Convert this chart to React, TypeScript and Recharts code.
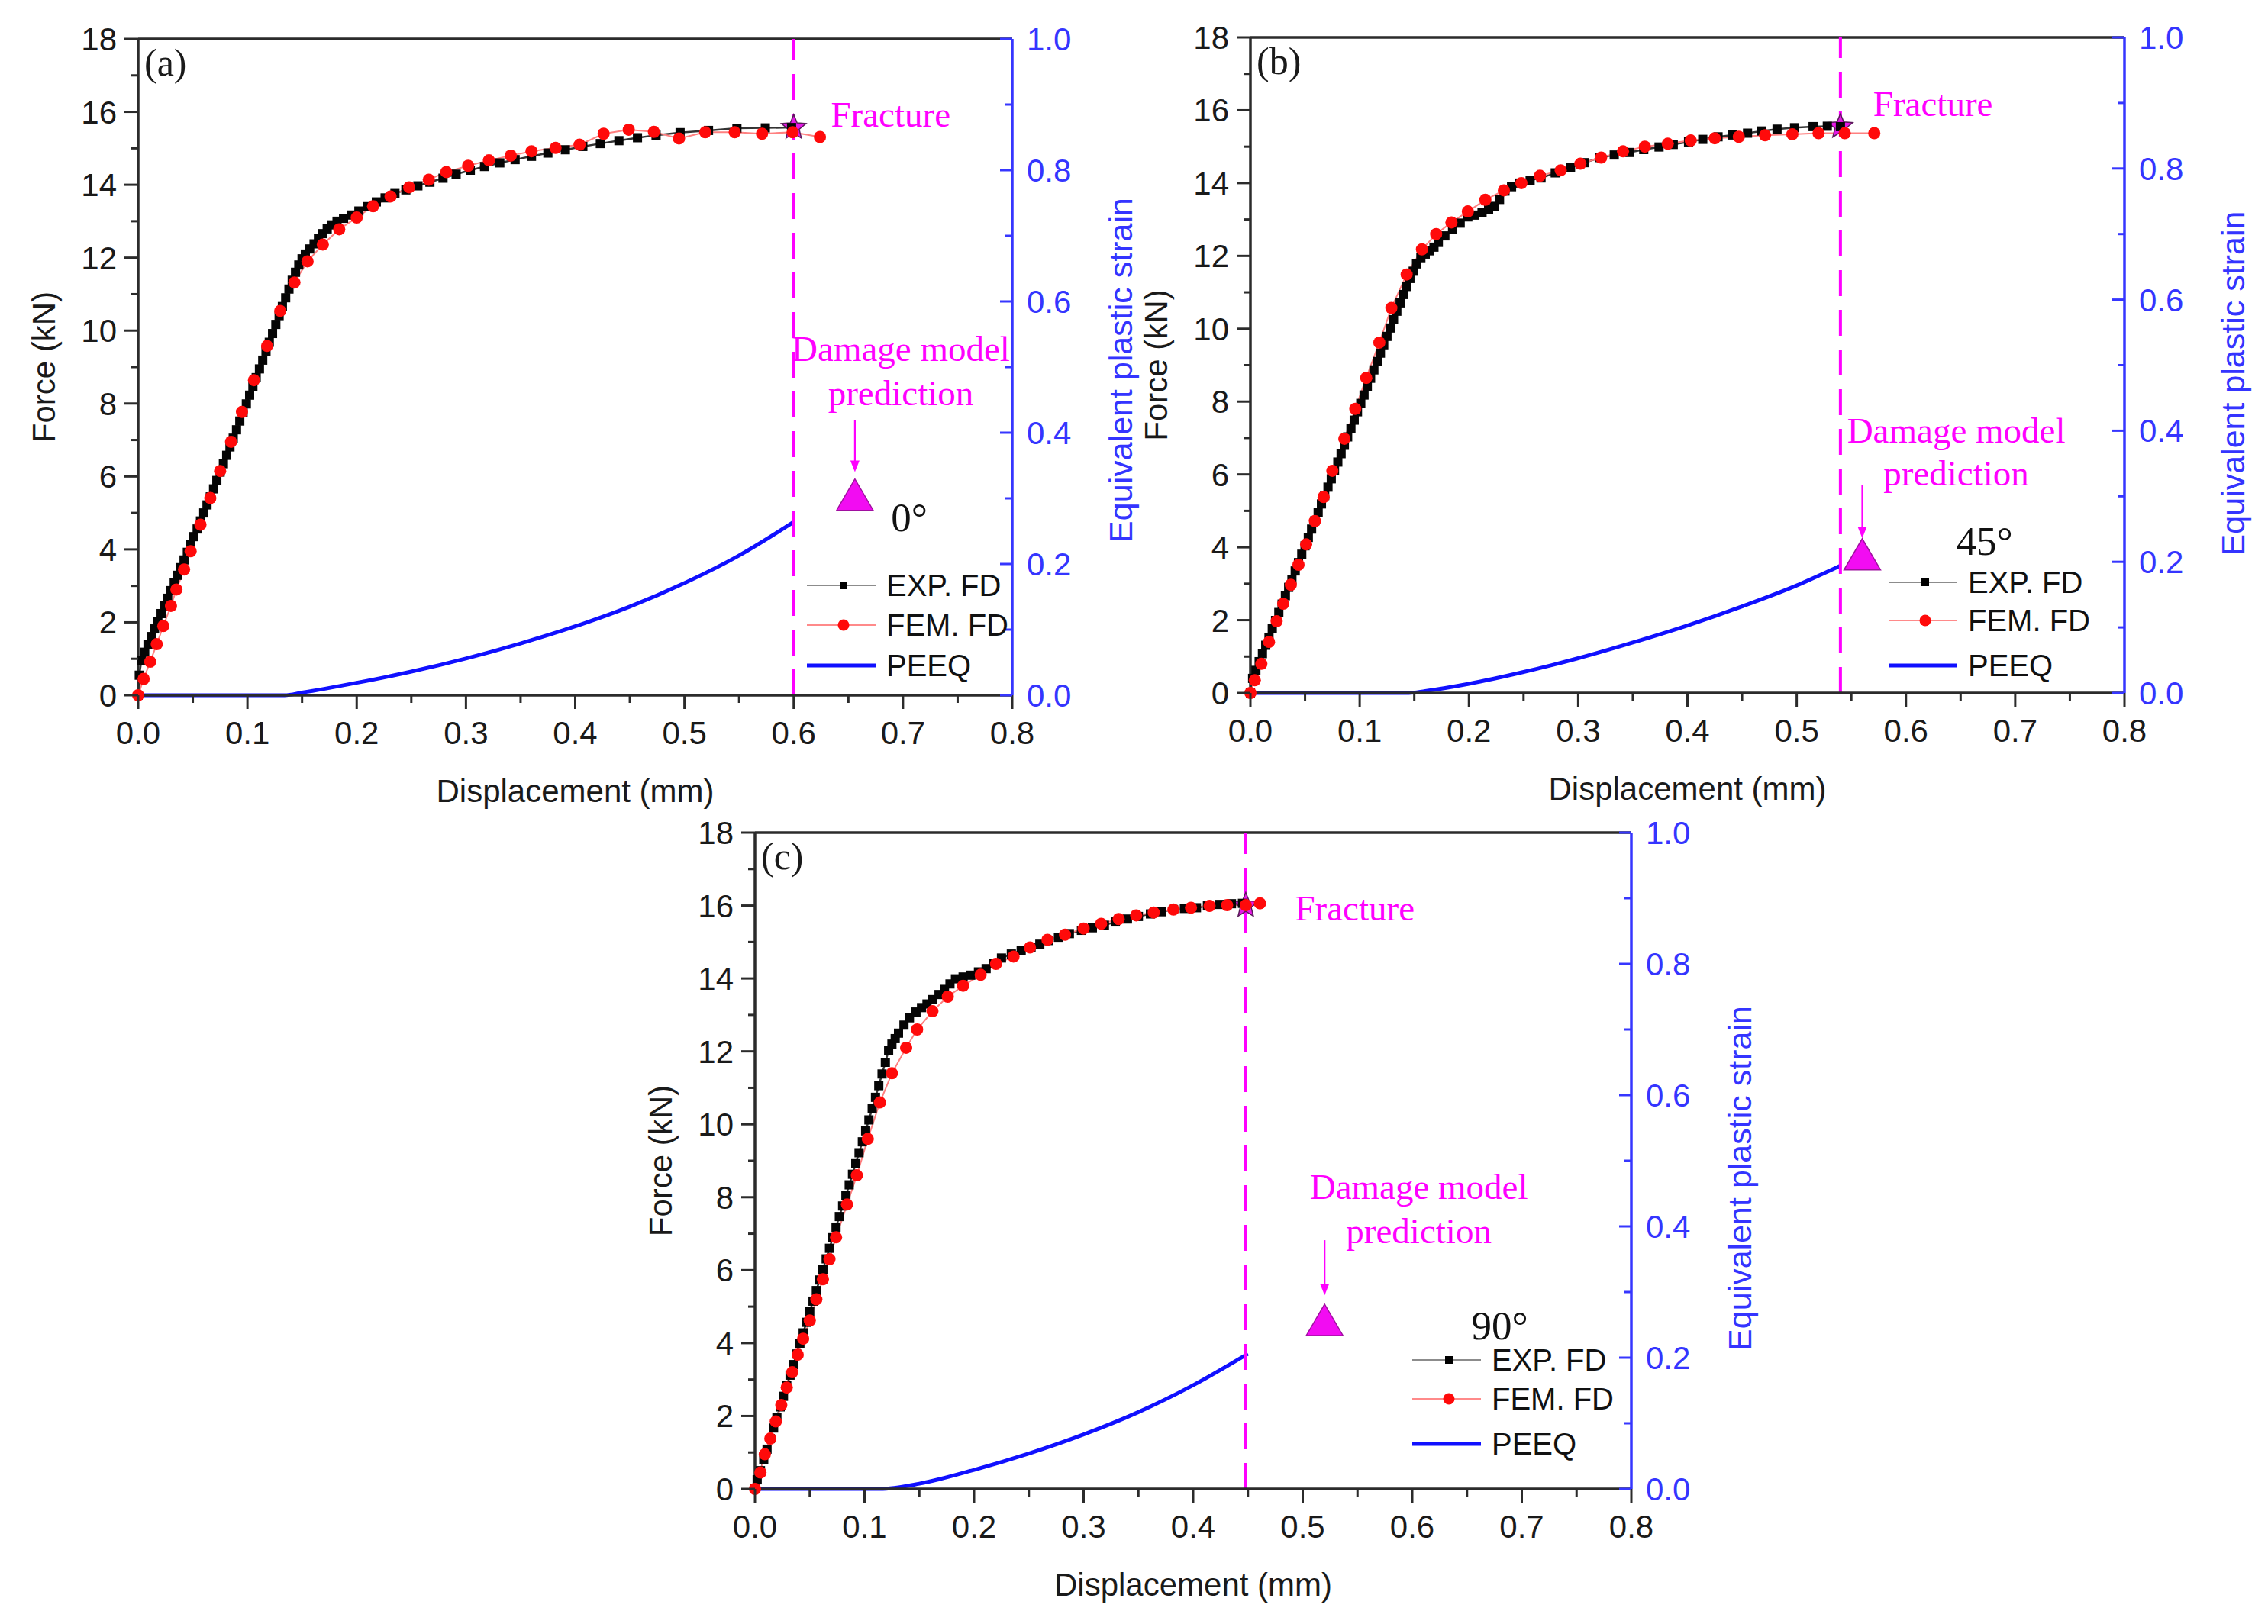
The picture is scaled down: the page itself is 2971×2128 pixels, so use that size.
import React from 'react'
import {
  ComposedChart,
  Line,
  Scatter,
  XAxis,
  YAxis,
  ReferenceLine,
  ReferenceDot,
  Legend,
} from 'recharts'

const SANS = "'Liberation Sans', Arial, Helvetica, sans-serif"
const SERIF = "'Liberation Serif', 'Times New Roman', Times, serif"
const AXIS = '#2b2b2b'
const BLUE_AXIS = '#3636ff'
const MAGENTA = '#ff00ff'

// axis ticks (every second one is a labelled major tick)
const dispTicks = [0, 0.05, 0.1, 0.15, 0.2, 0.25, 0.3, 0.35, 0.4, 0.45, 0.5, 0.55, 0.6, 0.65, 0.7, 0.75, 0.8]
const forceTicks = [0, 1, 2, 3, 4, 5, 6, 7, 8, 9, 10, 11, 12, 13, 14, 15, 16, 17, 18]
const strainTicks = [0, 0.1, 0.2, 0.3, 0.4, 0.5, 0.6, 0.7, 0.8, 0.9, 1.0]

const legendNames = ['EXP. FD', 'FEM. FD', 'PEEQ']
const panelLabels = ['(a)', '(b)', '(c)']
const angleLabels = ['0°', '45°', '90°']

// ---------- (a) 0° ----------
const expA_d = [
  0, 0.001, 0.003, 0.006, 0.009, 0.012, 0.015, 0.018, 0.021, 0.024, 0.027, 0.03, 0.033, 0.036, 0.039, 0.042,
  0.045, 0.048, 0.051, 0.054, 0.057, 0.06, 0.063, 0.066, 0.069, 0.072, 0.075, 0.078, 0.081, 0.084, 0.087, 0.09,
  0.093, 0.096, 0.099, 0.102, 0.105, 0.108, 0.111, 0.114, 0.117, 0.12, 0.123, 0.126, 0.129, 0.132, 0.135, 0.138,
  0.141, 0.144, 0.147, 0.15, 0.153, 0.157, 0.161, 0.165, 0.169, 0.173, 0.177, 0.182, 0.188, 0.195, 0.202, 0.21,
  0.218, 0.226, 0.235, 0.245, 0.256, 0.267, 0.279, 0.291, 0.304, 0.317, 0.331, 0.345, 0.36, 0.375, 0.391, 0.407,
  0.423, 0.44, 0.457, 0.474, 0.496, 0.522, 0.548, 0.574, 0.598,
]
const expA_f = [
  0, 0.55, 0.95, 1.18, 1.4, 1.61, 1.82, 2.03, 2.24, 2.45, 2.66, 2.87, 3.08, 3.29, 3.5, 3.71,
  3.92, 4.13, 4.35, 4.56, 4.78, 5.0, 5.22, 5.44, 5.66, 5.89, 6.12, 6.35, 6.58, 6.81, 7.05, 7.28,
  7.52, 7.76, 7.99, 8.23, 8.47, 8.71, 8.95, 9.19, 9.44, 9.68, 9.92, 10.17, 10.41, 10.66, 10.9, 11.14,
  11.38, 11.6, 11.8, 11.97, 12.1, 12.24, 12.38, 12.52, 12.66, 12.79, 12.9, 13.0, 13.08, 13.17, 13.28, 13.4,
  13.53, 13.64, 13.76, 13.86, 13.97, 14.07, 14.18, 14.29, 14.4, 14.5, 14.6, 14.69, 14.78, 14.87, 14.96, 15.05,
  15.13, 15.21, 15.29, 15.36, 15.43, 15.49, 15.55, 15.56, 15.57,
]
const femA_d = [
  0, 0.005, 0.011, 0.017, 0.023, 0.03, 0.035, 0.042, 0.048, 0.057, 0.066, 0.075, 0.085, 0.095, 0.106, 0.118,
  0.13, 0.143, 0.155, 0.169, 0.184, 0.2, 0.215, 0.231, 0.248, 0.266, 0.282, 0.302, 0.321, 0.341, 0.36, 0.382,
  0.404, 0.426, 0.449, 0.472, 0.495, 0.519, 0.546, 0.571, 0.599, 0.624,
]
const femA_f = [
  0, 0.45, 0.92, 1.4, 1.9, 2.45, 2.9, 3.45, 3.95, 4.68, 5.41, 6.15, 6.95, 7.77, 8.64, 9.58,
  10.54, 11.32, 11.9, 12.36, 12.78, 13.1, 13.41, 13.68, 13.93, 14.14, 14.35, 14.52, 14.67, 14.8, 14.92, 15.01,
  15.1, 15.4, 15.51, 15.45, 15.27, 15.44, 15.44, 15.4, 15.44, 15.31,
]
const peeqA_d = [0, 0.134, 0.15, 0.2, 0.25, 0.3, 0.35, 0.4, 0.45, 0.5, 0.55, 0.6]
const peeqA_p = [0, 0, 0.004, 0.019, 0.036, 0.056, 0.079, 0.105, 0.135, 0.171, 0.213, 0.264]
const fractureA = { d: 0.6, f: 15.57 }
const predictionA = { d: 0.656, p: 0.305 }

// ---------- (b) 45° ----------
const expB_d = [
  0, 0.002, 0.005, 0.008, 0.011, 0.014, 0.017, 0.02, 0.023, 0.026, 0.029, 0.032, 0.035, 0.038, 0.041, 0.044,
  0.047, 0.05, 0.053, 0.056, 0.059, 0.062, 0.065, 0.068, 0.071, 0.074, 0.077, 0.08, 0.083, 0.086, 0.089, 0.092,
  0.095, 0.098, 0.101, 0.104, 0.107, 0.11, 0.113, 0.116, 0.119, 0.122, 0.125, 0.128, 0.131, 0.134, 0.137, 0.14,
  0.143, 0.146, 0.149, 0.152, 0.156, 0.16, 0.164, 0.168, 0.172, 0.178, 0.185, 0.192, 0.199, 0.205, 0.212, 0.218,
  0.223, 0.228, 0.233, 0.239, 0.246, 0.256, 0.266, 0.279, 0.293, 0.306, 0.32, 0.333, 0.347, 0.36, 0.374, 0.387,
  0.401, 0.414, 0.428, 0.441, 0.455, 0.468, 0.482, 0.498, 0.515, 0.528, 0.54,
]
const expB_f = [
  0, 0.4, 0.62, 0.86, 1.08, 1.31, 1.53, 1.76, 1.99, 2.21, 2.44, 2.67, 2.9, 3.12, 3.35, 3.58,
  3.81, 4.04, 4.27, 4.5, 4.73, 4.96, 5.19, 5.42, 5.65, 5.88, 6.11, 6.34, 6.57, 6.8, 7.03, 7.26,
  7.49, 7.72, 7.95, 8.18, 8.41, 8.64, 8.87, 9.1, 9.33, 9.56, 9.79, 10.02, 10.25, 10.48, 10.71, 10.94,
  11.16, 11.38, 11.58, 11.78, 11.95, 12.05, 12.14, 12.24, 12.37, 12.55, 12.72, 12.9, 13.07, 13.12, 13.2, 13.28,
  13.36, 13.55, 13.78, 13.9, 14.0, 14.08, 14.14, 14.28, 14.42, 14.56, 14.7, 14.77, 14.84, 14.92, 14.99, 15.06,
  15.13, 15.2, 15.27, 15.32, 15.37, 15.43, 15.48, 15.52, 15.55, 15.56, 15.55,
]
const femB_d = [
  0, 0.004, 0.01, 0.017, 0.024, 0.03, 0.037, 0.044, 0.051, 0.059, 0.067, 0.075, 0.086, 0.096, 0.106, 0.118,
  0.129, 0.143, 0.157, 0.17, 0.184, 0.199, 0.215, 0.232, 0.248, 0.265, 0.284, 0.302, 0.321, 0.341, 0.361, 0.382,
  0.403, 0.425, 0.447, 0.471, 0.496, 0.52, 0.544, 0.571,
]
const femB_f = [
  0, 0.35, 0.8, 1.4, 1.97, 2.45, 2.97, 3.52, 4.08, 4.72, 5.38, 6.1, 6.98, 7.8, 8.65, 9.62,
  10.57, 11.49, 12.18, 12.6, 12.92, 13.22, 13.54, 13.8, 14.0, 14.2, 14.35, 14.53, 14.7, 14.87, 15.0, 15.08,
  15.17, 15.23, 15.27, 15.31, 15.34, 15.37, 15.37, 15.37,
]
const peeqB_d = [0, 0.145, 0.16, 0.2, 0.25, 0.3, 0.35, 0.4, 0.45, 0.5, 0.54]
const peeqB_p = [0, 0, 0.003, 0.014, 0.032, 0.053, 0.077, 0.103, 0.132, 0.164, 0.194]
const fractureB = { d: 0.54, f: 15.55 }
const predictionB = { d: 0.56, p: 0.211 }

// ---------- (c) 90° ----------
const expC_d = [
  0, 0.002, 0.005, 0.008, 0.011, 0.014, 0.017, 0.02, 0.023, 0.026, 0.029, 0.032, 0.035, 0.038, 0.041, 0.044,
  0.047, 0.05, 0.053, 0.056, 0.059, 0.062, 0.065, 0.068, 0.071, 0.074, 0.077, 0.08, 0.083, 0.086, 0.089, 0.092,
  0.095, 0.098, 0.101, 0.104, 0.107, 0.11, 0.113, 0.116, 0.119, 0.122, 0.125, 0.128, 0.131, 0.136, 0.141, 0.147,
  0.152, 0.157, 0.162, 0.168, 0.173, 0.178, 0.183, 0.19, 0.197, 0.204, 0.211, 0.218, 0.225, 0.234, 0.243, 0.252,
  0.26, 0.268, 0.277, 0.287, 0.298, 0.308, 0.319, 0.329, 0.34, 0.35, 0.361, 0.371, 0.382, 0.392, 0.403, 0.413,
  0.424, 0.435, 0.445,
]
const expC_f = [
  0, 0.25, 0.5, 0.8, 1.09, 1.38, 1.67, 1.96, 2.25, 2.54, 2.83, 3.12, 3.41, 3.7, 3.99, 4.28,
  4.57, 4.86, 5.15, 5.44, 5.73, 6.02, 6.31, 6.6, 6.89, 7.18, 7.47, 7.76, 8.05, 8.34, 8.63, 8.92,
  9.22, 9.52, 9.82, 10.12, 10.43, 10.74, 11.06, 11.38, 11.7, 12.02, 12.2, 12.35, 12.5, 12.72, 12.92, 13.08,
  13.2, 13.3, 13.42, 13.56, 13.7, 13.85, 13.99, 14.04, 14.09, 14.18, 14.27, 14.42, 14.56, 14.67, 14.77, 14.86,
  14.94, 15.04, 15.13, 15.23, 15.32, 15.39, 15.46, 15.55, 15.63, 15.7, 15.77, 15.83, 15.89, 15.92, 15.94, 15.99,
  16.03, 16.05, 16.06,
]
const femC_d = [
  0, 0.005, 0.009, 0.014, 0.019, 0.024, 0.029, 0.034, 0.039, 0.044, 0.05, 0.056, 0.062, 0.068, 0.074, 0.084,
  0.093, 0.103, 0.114, 0.125, 0.138, 0.148, 0.162, 0.176, 0.19, 0.206, 0.22, 0.236, 0.251, 0.267, 0.283, 0.3,
  0.316, 0.332, 0.348, 0.364, 0.382, 0.398, 0.415, 0.431, 0.448, 0.461,
]
const femC_f = [
  0, 0.45, 0.95, 1.38, 1.85, 2.3, 2.78, 3.2, 3.68, 4.12, 4.62, 5.2, 5.75, 6.3, 6.9, 7.8,
  8.6, 9.6, 10.6, 11.4, 12.1, 12.6, 13.1, 13.5, 13.8, 14.1, 14.4, 14.6, 14.85, 15.06, 15.2, 15.37,
  15.5, 15.63, 15.73, 15.81, 15.89, 15.94, 15.99, 16.01, 16.01, 16.06,
]
const peeqC_d = [0, 0.114, 0.15, 0.2, 0.25, 0.3, 0.35, 0.4, 0.45]
const peeqC_p = [0, 0, 0.008, 0.029, 0.054, 0.083, 0.117, 0.158, 0.206]
const fractureC = { d: 0.448, f: 16.0 }
const predictionC = { d: 0.52, p: 0.257 }

const zipF = (xs: number[], ys: number[]) => xs.map((d, i) => ({ d, f: ys[i] }))
const zipP = (xs: number[], ys: number[]) => xs.map((d, i) => ({ d, p: ys[i] }))

// space around each plot box for the axes
const L = 180
const R = 180
const T = 42
const B = 170

type PanelCfg = {
  idx: number
  box: { x: number; y: number; w: number; h: number }
  exp: { d: number; f: number }[]
  fem: { d: number; f: number }[]
  peeq: { d: number; p: number }[]
  fracture: { d: number; f: number }
  prediction: { d: number; p: number }
  fractureText: { d: number; f: number }
  damageText: { d: number; f1: number; f2: number }
  angleText: { d: number; f: number }
  arrow: { d: number; p1: number; p2: number }
  legend: { x: number; rows: number[] }
  rightTitleShift: number
}

const panels: PanelCfg[] = [
  {
    idx: 0,
    box: { x: 181, y: 51, w: 1145, h: 860 },
    exp: zipF(expA_d, expA_f),
    fem: zipF(femA_d, femA_f),
    peeq: zipP(peeqA_d, peeqA_p),
    fracture: fractureA,
    prediction: predictionA,
    fractureText: { d: 0.634, f: 15.6 },
    damageText: { d: 0.698, f1: 9.16, f2: 7.95 },
    angleText: { d: 0.689, f: 4.5 },
    arrow: { d: 0.656, p1: 0.419, p2: 0.34 },
    legend: { x: 1057, rows: [767, 819, 872] },
    rightTitleShift: 4,
  },
  {
    idx: 1,
    box: { x: 1638, y: 49, w: 1145, h: 859 },
    exp: zipF(expB_d, expB_f),
    fem: zipF(femB_d, femB_f),
    peeq: zipP(peeqB_d, peeqB_p),
    fracture: fractureB,
    prediction: predictionB,
    fractureText: { d: 0.57, f: 15.85 },
    damageText: { d: 0.646, f1: 6.88, f2: 5.7 },
    angleText: { d: 0.646, f: 3.79 },
    arrow: { d: 0.56, p1: 0.317, p2: 0.236 },
    legend: { x: 2474, rows: [763, 813, 872] },
    rightTitleShift: 24,
  },
  {
    idx: 2,
    box: { x: 989, y: 1091, w: 1148, h: 860 },
    exp: zipF(expC_d, expC_f),
    fem: zipF(femC_d, femC_f),
    peeq: zipP(peeqC_d, peeqC_p),
    fracture: fractureC,
    prediction: predictionC,
    fractureText: { d: 0.493, f: 15.59 },
    damageText: { d: 0.606, f1: 7.95, f2: 6.74 },
    angleText: { d: 0.654, f: 4.1 },
    arrow: { d: 0.52, p1: 0.379, p2: 0.295 },
    legend: { x: 1850, rows: [1782, 1833, 1892] },
    rightTitleShift: 23,
  },
]

// ---------- ticks ----------
function BottomTick(props: any) {
  const { x, y, payload } = props
  const v = Number(payload.value)
  const major = Math.round(v * 20) % 2 === 0
  return (
    <g>
      <line x1={x} y1={y} x2={x} y2={y + (major ? 18 : 10)} stroke={AXIS} strokeWidth={3} />
      {major && (
        <text x={x} y={y + 64} textAnchor="middle" fontFamily={SANS} fontSize={42} fill="#1a1a1a">
          {v.toFixed(1)}
        </text>
      )}
    </g>
  )
}

function LeftTick(props: any) {
  const { x, y, payload } = props
  const v = Number(payload.value)
  const major = v % 2 === 0
  return (
    <g>
      <line x1={x - (major ? 18 : 9)} y1={y} x2={x} y2={y} stroke={AXIS} strokeWidth={3} />
      {major && (
        <text x={x - 28} y={y + 15} textAnchor="end" fontFamily={SANS} fontSize={42} fill="#1a1a1a">
          {String(v)}
        </text>
      )}
    </g>
  )
}

function RightTick(props: any) {
  const { x, y, payload } = props
  const v = Number(payload.value)
  const major = Math.round(v * 10) % 2 === 0
  return (
    <g>
      <line x1={x - (major ? 16 : 9)} y1={y} x2={x} y2={y} stroke={BLUE_AXIS} strokeWidth={3} />
      {major && (
        <text x={x + 19} y={y + 15} textAnchor="start" fontFamily={SANS} fontSize={42} fill="#3535ff">
          {v.toFixed(1)}
        </text>
      )}
    </g>
  )
}

// ---------- marks ----------
const squareDot = (p: any) => (
  <rect key={`sq-${p.index}`} x={p.cx - 6} y={p.cy - 6} width={12} height={12} fill="#050505" />
)
const circleDot = (p: any) => <circle key={`ci-${p.index}`} cx={p.cx} cy={p.cy} r={8} fill="#ff0a0a" />

function StarMark(p: any) {
  const pts: string[] = []
  for (let i = 0; i < 10; i++) {
    const rad = i % 2 === 0 ? 17 : 7.5
    const a = -Math.PI / 2 + (i * Math.PI) / 5
    pts.push(`${p.cx + rad * Math.cos(a)},${p.cy + rad * Math.sin(a)}`)
  }
  return <polygon points={pts.join(' ')} fill="#e619e6" stroke="#5a1a5a" strokeWidth={1.5} />
}

function TriangleMark(p: any) {
  const pts = `${p.cx},${p.cy - 21} ${p.cx - 24},${p.cy + 20} ${p.cx + 24},${p.cy + 20}`
  return <polygon points={pts} fill="#f20cf2" stroke="#a010a0" strokeWidth={1.5} />
}

function ArrowMark(p: any) {
  const { x1, y1, x2, y2 } = p
  return (
    <g>
      <line x1={x1} y1={y1} x2={x2} y2={y2 - 12} stroke={MAGENTA} strokeWidth={2.2} />
      <polygon points={`${x2},${y2} ${x2 - 6},${y2 - 15} ${x2 + 6},${y2 - 15}`} fill={MAGENTA} />
    </g>
  )
}

function legendSymbol(i: number) {
  if (i === 0)
    return (
      <g>
        <line x1={0} y1={25} x2={90} y2={25} stroke="#666" strokeWidth={1.6} />
        <rect x={43} y={20} width={10} height={10} fill="#000" />
      </g>
    )
  if (i === 1)
    return (
      <g>
        <line x1={0} y1={25} x2={90} y2={25} stroke="#ff8a8a" strokeWidth={1.8} />
        <circle cx={48} cy={25} r={7.5} fill="#ff0a0a" />
      </g>
    )
  return <line x1={0} y1={25} x2={90} y2={25} stroke="#1010ff" strokeWidth={5} />
}

function LegendRows({ rows }: { rows: number[] }) {
  return (
    <div style={{ position: 'relative', width: 340, height: rows[rows.length - 1] - rows[0] + 50 }}>
      {legendNames.map((name, i) => (
        <div
          key={name}
          style={{
            position: 'absolute',
            left: 0,
            top: rows[i] - rows[0],
            height: 50,
            display: 'flex',
            alignItems: 'center',
          }}
        >
          <svg width={90} height={50} style={{ display: 'block' }}>
            {legendSymbol(i)}
          </svg>
          <span
            style={{
              marginLeft: 14,
              fontFamily: SANS,
              fontSize: 40,
              lineHeight: '50px',
              color: '#111',
              whiteSpace: 'nowrap',
            }}
          >
            {name}
          </span>
        </div>
      ))}
    </div>
  )
}

function Panel({ cfg }: { cfg: PanelCfg }) {
  const { box } = cfg
  const width = box.w + L + R
  const height = box.h + T + B
  const left = box.x - L
  const top = box.y - T

  const leftTitle = (props: any) => {
    const vb = props.viewBox || { x: 0, y: T, width: L, height: box.h }
    const cx = vb.x + 56
    const cy = vb.y + vb.height / 2
    return (
      <text
        x={cx}
        y={cy}
        transform={`rotate(-90 ${cx} ${cy})`}
        textAnchor="middle"
        dominantBaseline="central"
        fontFamily={SANS}
        fontSize={42}
        fill="#1a1a1a"
      >
        Force (kN)
      </text>
    )
  }
  const rightTitle = (props: any) => {
    const vb = props.viewBox || { x: L + box.w, y: T, width: R, height: box.h }
    const cx = vb.x + 142
    const cy = vb.y + vb.height / 2 + cfg.rightTitleShift
    return (
      <text
        x={cx}
        y={cy}
        transform={`rotate(-90 ${cx} ${cy})`}
        textAnchor="middle"
        dominantBaseline="central"
        fontFamily={SANS}
        fontSize={43}
        fill="#3434ff"
      >
        Equivalent plastic strain
      </text>
    )
  }
  const bottomTitle = (props: any) => {
    const vb = props.viewBox || { x: L, y: T + box.h, width: box.w, height: B }
    return (
      <text x={vb.x + vb.width / 2} y={vb.y + 140} textAnchor="middle" fontFamily={SANS} fontSize={42} fill="#1a1a1a">
        Displacement (mm)
      </text>
    )
  }

  return (
    <div style={{ position: 'absolute', left, top, width, height }}>
      <ComposedChart width={width} height={height} margin={{ top: T, right: 0, bottom: 0, left: 0 }}>
        <XAxis
          dataKey="d"
          type="number"
          domain={[0, 0.8]}
          ticks={dispTicks}
          interval={0}
          tickSize={0}
          tickMargin={0}
          tickLine={false}
          tick={BottomTick}
          axisLine={{ stroke: AXIS, strokeWidth: 3.5 }}
          height={B}
          label={{ content: bottomTitle }}
        />
        <YAxis
          yAxisId="f"
          type="number"
          orientation="left"
          domain={[0, 18]}
          ticks={forceTicks}
          interval={0}
          tickSize={0}
          tickMargin={0}
          tickLine={false}
          tick={LeftTick}
          axisLine={{ stroke: AXIS, strokeWidth: 3.5 }}
          width={L}
          label={{ content: leftTitle }}
        />
        <YAxis
          yAxisId="p"
          type="number"
          orientation="right"
          domain={[0, 1]}
          ticks={strainTicks}
          interval={0}
          tickSize={0}
          tickMargin={0}
          tickLine={false}
          tick={RightTick}
          axisLine={{ stroke: BLUE_AXIS, strokeWidth: 3.5 }}
          width={R}
          label={{ content: rightTitle }}
        />

        <ReferenceLine yAxisId="f" y={18} stroke={AXIS} strokeWidth={3.5} />

        <Line
          yAxisId="p"
          data={cfg.peeq}
          dataKey="p"
          type="monotone"
          stroke="#1010ff"
          strokeWidth={5}
          dot={false}
          isAnimationActive={false}
        />
        <Line
          yAxisId="f"
          data={cfg.exp}
          dataKey="f"
          type="linear"
          stroke="#333"
          strokeWidth={2.5}
          dot={squareDot}
          isAnimationActive={false}
        />
        <Line
          yAxisId="f"
          data={cfg.fem}
          dataKey="f"
          type="linear"
          stroke="#ff8080"
          strokeWidth={2}
          dot={circleDot}
          isAnimationActive={false}
        />

        <ReferenceLine
          yAxisId="f"
          x={cfg.fracture.d}
          stroke={MAGENTA}
          strokeWidth={4}
          strokeDasharray="34 18"
        />

        <Scatter
          yAxisId="f"
          data={[cfg.fracture]}
          dataKey="f"
          shape={StarMark}
          isAnimationActive={false}
        />
        <Scatter
          yAxisId="p"
          data={[cfg.prediction]}
          dataKey="p"
          shape={TriangleMark}
          isAnimationActive={false}
        />

        <ReferenceLine
          yAxisId="p"
          segment={[
            { x: cfg.arrow.d, y: cfg.arrow.p1 },
            { x: cfg.arrow.d, y: cfg.arrow.p2 },
          ]}
          ifOverflow="visible"
          shape={ArrowMark}
        />

        <ReferenceDot
          yAxisId="f"
          x={0}
          y={18}
          ifOverflow="visible"
          shape={(p: any) => (
            <text x={p.cx + 8} y={p.cy + 48} fontFamily={SERIF} fontSize={50} fill="#1a1a1a">
              {panelLabels[cfg.idx]}
            </text>
          )}
        />
        <ReferenceDot
          yAxisId="f"
          x={cfg.fractureText.d}
          y={cfg.fractureText.f}
          ifOverflow="visible"
          shape={(p: any) => (
            <text x={p.cx} y={p.cy} fontFamily={SERIF} fontSize={47} fill={MAGENTA}>
              Fracture
            </text>
          )}
        />
        <ReferenceDot
          yAxisId="f"
          x={cfg.damageText.d}
          y={cfg.damageText.f1}
          ifOverflow="visible"
          shape={(p: any) => (
            <text x={p.cx} y={p.cy} textAnchor="middle" fontFamily={SERIF} fontSize={47} fill={MAGENTA}>
              Damage model
            </text>
          )}
        />
        <ReferenceDot
          yAxisId="f"
          x={cfg.damageText.d}
          y={cfg.damageText.f2}
          ifOverflow="visible"
          shape={(p: any) => (
            <text x={p.cx} y={p.cy} textAnchor="middle" fontFamily={SERIF} fontSize={47} fill={MAGENTA}>
              prediction
            </text>
          )}
        />
        <ReferenceDot
          yAxisId="f"
          x={cfg.angleText.d}
          y={cfg.angleText.f}
          ifOverflow="visible"
          shape={(p: any) => (
            <text x={p.cx} y={p.cy} fontFamily={SERIF} fontSize={53} fill="#111">
              {angleLabels[cfg.idx]}
            </text>
          )}
        />

        <Legend
          layout="vertical"
          align="center"
          verticalAlign="middle"
          wrapperStyle={{
            left: cfg.legend.x - left,
            top: cfg.legend.rows[0] - 25 - top,
            width: 340,
          }}
          content={() => <LegendRows rows={cfg.legend.rows} />}
        />
      </ComposedChart>
    </div>
  )
}

export default function App() {
  return (
    <div style={{ position: 'absolute', left: 0, top: 0, width: 2971, height: 2128, background: '#ffffff' }}>
      {panels.map((cfg) => (
        <Panel key={cfg.idx} cfg={cfg} />
      ))}
    </div>
  )
}
